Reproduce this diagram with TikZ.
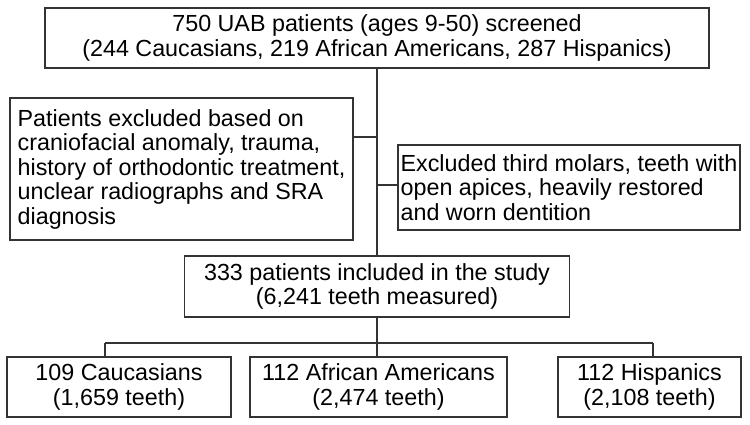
\documentclass[tikz,border=0pt]{standalone}
\usepackage{fontspec}
\setmainfont{Liberation Sans}
\begin{document}
\begin{tikzpicture}[x=1pt,y=-1pt,
  box/.style={draw=black!80, line width=1.3pt, inner sep=0pt, font=\fontsize{23.3}{24.5}\selectfont, align=center},
  lbox/.style={box, align=left},
  link/.style={draw=black!80, line width=1.2pt}]
\useasboundingbox (0,0) rectangle (750,425);
\node[box, minimum width=664pt, minimum height=60pt] (top) at (377,38)
  {750 UAB patients (ages 9-50) screened\\(244 Caucasians, 219 African Americans, 287 Hispanics)};
\node[lbox, minimum width=343pt, minimum height=142pt] (left) at (181.5,169)
  {Patients excluded based on\\craniofacial anomaly, trauma,\\history of orthodontic treatment,\\unclear radiographs and SRA\\diagnosis};
\node[lbox, minimum width=342pt, minimum height=85pt] (right) at (569,187.5)
  {Excluded third molars, teeth with\\open apices, heavily restored\\and worn dentition};
\node[box, minimum width=385pt, minimum height=61pt] (mid) at (377,286.5)
  {333 patients included in the study\\(6,241 teeth measured)};
\node[box, minimum width=224pt, minimum height=60pt] (b1) at (119,387)
  {109 Caucasians\\(1,659 teeth)};
\node[box, minimum width=257pt, minimum height=60pt] (b2) at (378.5,387)
  {112 African Americans\\(2,474 teeth)};
\node[box, minimum width=183pt, minimum height=60pt] (b3) at (649.5,387)
  {112 Hispanics\\(2,108 teeth)};
\coordinate (jl) at (377,137);
\coordinate (jr) at (377,185);
\coordinate (bar) at (377,343);
\coordinate (barl) at (105,343);
\coordinate (barr) at (653,343);
\path[link] (top.south) -- (mid.north);
\path[link] (left.east |- jl) -- (jl);
\path[link] (jr) -- (right.west |- jr);
\path[link] (mid.south) -- (bar);
\path[link] (barl) -- (barr);
\path[link] (barl) -- (barl |- b1.north);
\path[link] (bar) -- (bar |- b2.north);
\path[link] (barr) -- (barr |- b3.north);
\end{tikzpicture}
\end{document}
